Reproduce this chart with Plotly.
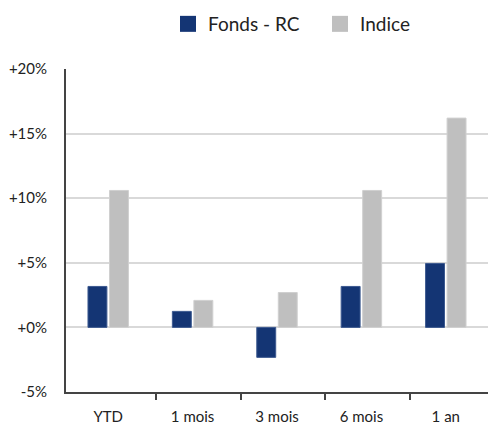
import plotly.graph_objects as go

categories = ["YTD", "1 mois", "3 mois", "6 mois", "1 an"]
fonds_rc = [3.17, 1.24, -2.32, 3.17, 4.95]
indice = [10.6, 2.09, 2.7, 10.6, 16.2]
y_ticks = [-5, 0, 5, 10, 15, 20]
y_tick_labels = ["-5%", "+0%", "+5%", "+10%", "+15%", "+20%"]

C_FUND = "#143574"
C_IDX = "#bfbfbf"
FONT = "Lato, 'Open Sans', sans-serif"

# page body has an 8px margin, so the figure is sized to the remaining viewport
W, H = 488, 416

fig = go.Figure()
fig.add_trace(go.Bar(x=categories, y=fonds_rc, name="Fonds - RC", marker=dict(color=C_FUND, line=dict(color="#3d5a90", width=1)), showlegend=False))
fig.add_trace(go.Bar(x=categories, y=indice, name="Indice", marker=dict(color=C_IDX, line=dict(color="#d0d0d0", width=1)), showlegend=False))
# legend entries with square markers
fig.add_trace(go.Scatter(x=[None], y=[None], mode="markers", name="Fonds - RC",
                         marker=dict(symbol="square", size=16, color=C_FUND)))
fig.add_trace(go.Scatter(x=[None], y=[None], mode="markers", name="Indice",
                         marker=dict(symbol="square", size=16, color=C_IDX)))
# empty trace so the tick-mark axis (x2) is drawn
fig.add_trace(go.Scatter(x=[None], y=[None], xaxis="x2", yaxis="y", mode="markers",
                         showlegend=False, hoverinfo="skip"))

fig.update_layout(
    width=W, height=H,
    margin=dict(l=58, r=8, t=61, b=32, autoexpand=False),
    paper_bgcolor="white", plot_bgcolor="white",
    barmode="group", bargap=0.49, bargroupgap=0.12,
    font=dict(family=FONT, size=14, color="#222222"),
    legend=dict(orientation="h", x=160 / W, xref="container", xanchor="left",
                y=1 - 16 / H, yref="container", yanchor="middle",
                font=dict(size=19, color="#222222"), itemwidth=30,
                entrywidth=107, entrywidthmode="pixels"),
    shapes=[dict(type="line", xref="paper", yref="paper", x0=1, x1=1 + 8 / (W - 66), y0=0, y1=0,
                 line=dict(color="#444444", width=2))],
    xaxis=dict(
        type="category", range=[-0.5, 4.5], automargin=False,
        showline=True, linecolor="#444444", linewidth=2,
        ticks="", showgrid=False, ticklabelstandoff=10, tickfont=dict(size=15),
    ),
    xaxis2=dict(overlaying="x", side="bottom", anchor="y", range=[-0.5, 4.5], showgrid=False, zeroline=False,
                tickvals=[0.57, 1.57, 2.57, 3.57], ticks="outside", ticklen=7, tickwidth=2,
                tickcolor="#444444", showticklabels=False, showline=False, automargin=False),
)
fig.update_yaxes(
    range=[-5, 20], tickvals=y_ticks, ticktext=y_tick_labels, automargin=False,
    showline=True, linecolor="#444444", linewidth=2,
    showgrid=True, gridcolor="#d9d9d9", gridwidth=1.5,
    zeroline=True, zerolinecolor="#d9d9d9", zerolinewidth=1.5,
    ticks="", ticklabelstandoff=14, tickfont=dict(size=15),
)
fig.write_html("out.html")
